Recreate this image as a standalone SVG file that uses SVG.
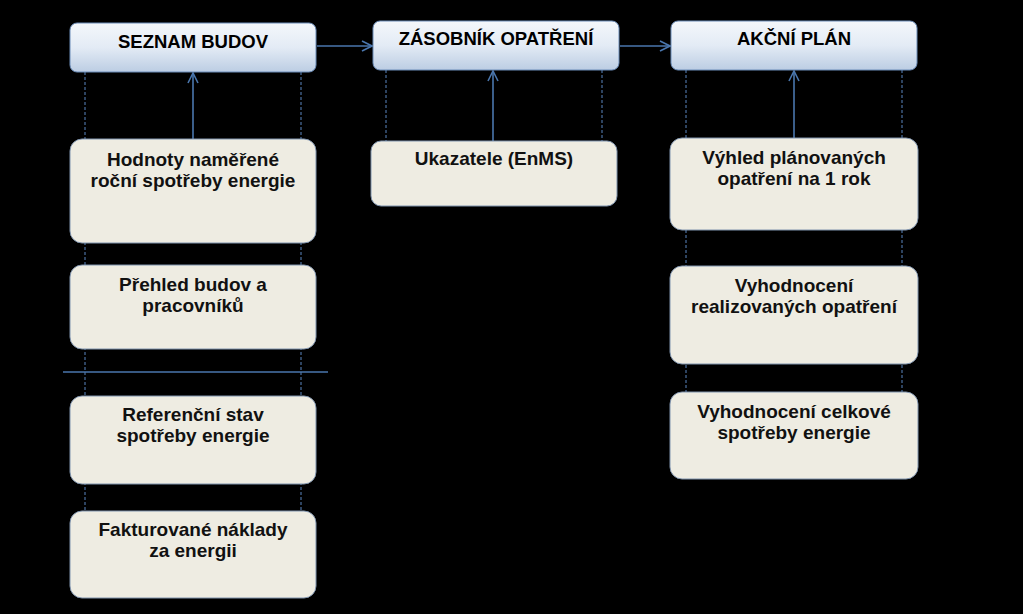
<svg xmlns="http://www.w3.org/2000/svg" width="1023" height="614" viewBox="0 0 1023 614">
<defs>
<linearGradient id="hg" x1="0" y1="0" x2="0" y2="1">
<stop offset="0" stop-color="#f4f7fb"/>
<stop offset="0.5" stop-color="#e3ebf5"/>
<stop offset="1" stop-color="#bccde3"/>
</linearGradient>
<marker id="ah" viewBox="0 0 12 12" refX="11" refY="6" markerWidth="12" markerHeight="12" markerUnits="userSpaceOnUse" orient="auto">
<path d="M1,1 L11,6 L1,11" fill="none" stroke="#4a76ad" stroke-width="1.6"/>
</marker>
</defs>
<style>
.hdr{fill:url(#hg);stroke:#6b8cb8;stroke-width:1}
.box{fill:#eeece2;stroke:#7f93ad;stroke-width:1}
.ht{font-family:"Liberation Sans",Arial,sans-serif;font-weight:bold;font-size:18.5px;fill:#000;text-anchor:middle}
.bt{font-family:"Liberation Sans",Arial,sans-serif;font-weight:bold;font-size:19px;fill:#111;text-anchor:middle}
.dash{stroke:#5a86c0;stroke-width:1;stroke-dasharray:3,2;fill:none}
.conn{stroke:#4a76ad;stroke-width:1.6;fill:none}
</style>
<rect width="1023" height="614" fill="#000"/>
<g id="guides">
<line class="dash" x1="85" y1="72" x2="85" y2="512"/>
<line class="dash" x1="301" y1="72" x2="301" y2="512"/>
<line class="dash" x1="386" y1="70" x2="386" y2="142"/>
<line class="dash" x1="602" y1="70" x2="602" y2="142"/>
<line class="dash" x1="686" y1="70" x2="686" y2="393"/>
<line class="dash" x1="902" y1="70" x2="902" y2="393"/>
<line x1="63" y1="372" x2="328" y2="372" stroke="#4a76ad" stroke-width="1.4"/>
</g>
<g id="connectors">
<line class="conn" x1="317" y1="46" x2="372" y2="46" marker-end="url(#ah)"/>
<line class="conn" x1="620" y1="46" x2="670" y2="46" marker-end="url(#ah)"/>
<line class="conn" x1="193" y1="139" x2="193" y2="73" marker-end="url(#ah)"/>
<line class="conn" x1="493" y1="141" x2="493" y2="71" marker-end="url(#ah)"/>
<line class="conn" x1="794" y1="139" x2="794" y2="71" marker-end="url(#ah)"/>
</g>
<g id="seznam-budov"><rect class="hdr" x="70" y="23" width="246" height="49" rx="7"/><text class="ht" x="193" y="48">SEZNAM BUDOV</text></g>
<g id="zasobnik-opatreni"><rect class="hdr" x="373" y="21" width="246" height="49" rx="7"/><text class="ht" x="496" y="45">ZÁSOBNÍK OPATŘENÍ</text></g>
<g id="akcni-plan"><rect class="hdr" x="671" y="21" width="246" height="49" rx="7"/><text class="ht" x="794" y="45">AKČNÍ PLÁN</text></g>
<g id="hodnoty"><rect class="box" x="70" y="139" width="246" height="104" rx="12"/><text class="bt" x="193" y="166">Hodnoty naměřené</text><text class="bt" x="193" y="187">roční spotřeby energie</text></g>
<g id="prehled"><rect class="box" x="70" y="265" width="246" height="84" rx="12"/><text class="bt" x="193" y="291">Přehled budov a</text><text class="bt" x="193" y="312">pracovníků</text></g>
<g id="referencni"><rect class="box" x="70" y="396" width="246" height="88" rx="12"/><text class="bt" x="193" y="421">Referenční stav</text><text class="bt" x="193" y="442">spotřeby energie</text></g>
<g id="fakturovane"><rect class="box" x="70" y="511" width="246" height="87" rx="12"/><text class="bt" x="193" y="536">Fakturované náklady</text><text class="bt" x="193" y="557">za energii</text></g>
<g id="ukazatele"><rect class="box" x="371" y="141" width="246" height="65" rx="10"/><text class="bt" x="494" y="165">Ukazatele (EnMS)</text></g>
<g id="vyhled"><rect class="box" x="670" y="138" width="248" height="92" rx="12"/><text class="bt" x="794" y="164">Výhled plánovaných</text><text class="bt" x="794" y="185">opatření na 1 rok</text></g>
<g id="vyhodnoceni-real"><rect class="box" x="670" y="266" width="248" height="98" rx="12"/><text class="bt" x="794" y="292">Vyhodnocení</text><text class="bt" x="794" y="313">realizovaných opatření</text></g>
<g id="vyhodnoceni-celk"><rect class="box" x="670" y="392" width="248" height="87" rx="12"/><text class="bt" x="794" y="418">Vyhodnocení celkové</text><text class="bt" x="794" y="439">spotřeby energie</text></g>
</svg>
